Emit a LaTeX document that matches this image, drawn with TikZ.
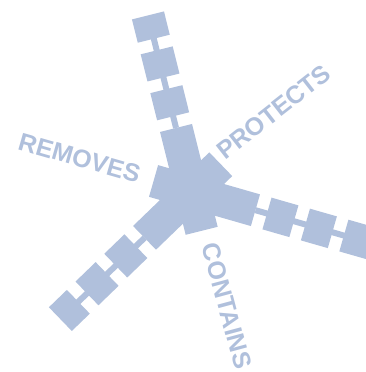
\documentclass[tikz,border=0pt]{standalone}
\usepackage{fontspec}
\newfontfamily\lblfont{Liberation Sans}
\definecolor{hubblue}{RGB}{176,192,220}

\tikzset{every picture/.style={line width=0.75pt}}
\tikzset{
  plate/.style={fill=hubblue, draw=none},
  lbl/.style={inner sep=0pt, text=hubblue, font=\lblfont\bfseries\fontsize{18.8}{18.8}\selectfont}
}

\begin{document}
\begin{tikzpicture}[x=0.75pt,y=0.75pt,yscale=-1,xscale=1]
\useasboundingbox (0,0) rectangle (366,372); %set diagram size 366 x 372

%Shape: Stubs [id:hub]
\begin{scope}[shift={(192,192)},rotate=-44]
\fill [plate] (0,-16.5) rectangle (40,16.5);
\end{scope}
\begin{scope}[shift={(192,192)},rotate=-164]
\fill [plate] (0,-16.5) rectangle (40,16.5);
\end{scope}
\begin{scope}[shift={(192,192)},rotate=-284]
\fill [plate] (0,-16.5) rectangle (40,16.5);
\end{scope}

%Shape: Arm [id:armtop]
\begin{scope}[shift={(192,192)},rotate=-104]
\fill [plate] (0,-16.5) rectangle (66,16.5);
\fill [plate] (66,-3) rectangle (160,3);
\fill [plate] (78,-16.5) rectangle (106,16.5);
\fill [plate] (118,-16.5) rectangle (146,16.5);
\fill [plate] (158,-16.5) rectangle (182,16.5);
\end{scope}

%Shape: Arm [id:armleft]
\begin{scope}[shift={(192,192)},rotate=-224]
\fill [plate] (0,-16.5) rectangle (66,16.5);
\fill [plate] (66,-3) rectangle (160,3);
\fill [plate] (78,-16.5) rectangle (106,16.5);
\fill [plate] (118,-16.5) rectangle (146,16.5);
\fill [plate] (158,-16.5) rectangle (183,16.5);
\end{scope}

%Shape: Arm [id:armright]
\begin{scope}[shift={(192,192)},rotate=-344]
\fill [plate] (0,-16.5) rectangle (66,16.5);
\fill [plate] (66,-3) rectangle (160,3);
\fill [plate] (78,-16.5) rectangle (106,16.5);
\fill [plate] (118,-16.5) rectangle (146,16.5);
\fill [plate] (158,-16.5) rectangle (186,16.5);
\end{scope}

% Text Node
\draw (79.5,158) node (removes) [lbl, rotate=-16] {REMOVES};
% Text Node
\draw (274,112) node (protects) [lbl, rotate=38] {PROTECTS};
% Text Node
\draw (227,306) node (contains) [lbl, rotate=-75] {CONTAINS};

\end{tikzpicture}
\end{document}
